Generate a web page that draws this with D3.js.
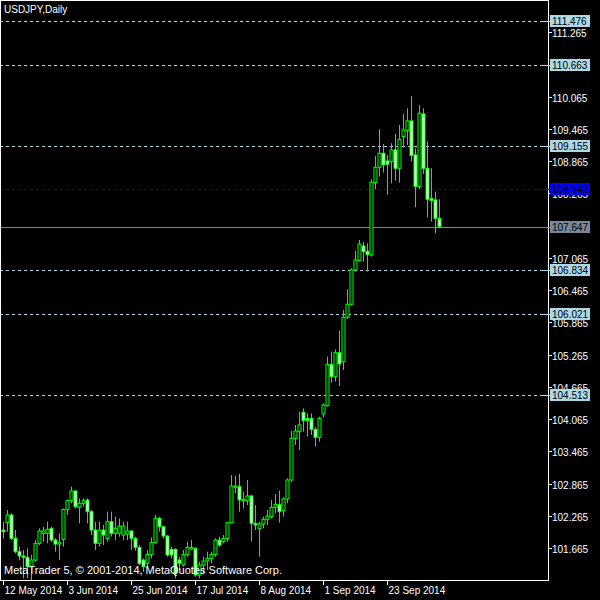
<!DOCTYPE html>
<html><head><meta charset="utf-8">
<script src="https://cdn.jsdelivr.net/npm/d3@7"></script>
<style>body{margin:0;background:#000;}svg{display:block;}</style>
</head><body>
<script>
const opens=[101.999,102.136,102.279,101.845,101.596,101.516,101.491,101.317,101.441,101.751,101.938,101.938,102.031,101.813,101.739,101.826,102.384,102.546,102.726,102.422,102.496,102.558,102.341,101.999,101.751,101.999,101.845,102.155,101.938,101.938,
101.906,101.925,101.981,101.844,101.677,101.441,101.379,101.546,101.764,102.217,102.062,101.888,101.640,101.640,101.441,101.348,101.546,101.646,101.658,101.162,101.348,101.422,101.472,101.546,101.813,101.782,101.844,102.136,
102.794,102.807,102.546,102.546,102.633,102.124,102.031,102.112,102.199,102.248,102.422,102.478,102.360,102.577,102.931,103.707,103.831,104.191,104.079,104.079,103.874,103.725,104.160,104.315,105.085,104.855,105.302,105.134,105.960,
106.202,106.841,107.015,107.288,107.189,107.121,108.467,108.753,109.014,108.871,108.859,109.076,108.734,109.324,109.436,109.616,108.983,108.393,109.746,108.734,108.170,108.145,107.803];
const highs=[102.155,102.372,102.310,101.999,101.689,101.627,101.658,101.534,101.813,102.031,102.062,102.155,102.062,101.845,101.938,102.403,102.571,102.807,102.745,102.589,102.589,102.589,102.372,102.155,102.155,102.093,102.341,102.341,102.248,102.217,
102.155,102.155,101.999,101.875,101.720,101.472,101.627,101.863,102.279,102.248,102.074,101.906,101.689,101.658,101.503,101.627,101.782,101.813,101.677,101.410,101.503,101.596,101.596,101.844,101.875,101.906,102.155,103.024,
103.005,103.043,102.714,102.931,102.652,102.465,102.155,102.248,102.372,102.559,102.670,102.732,102.608,102.962,103.850,103.955,104.203,104.265,104.172,104.172,103.912,104.110,104.359,105.228,105.321,105.364,105.712,106.097,106.481,
106.872,107.195,107.400,107.369,107.338,108.530,108.964,109.461,109.187,108.983,109.200,109.374,109.541,109.746,109.852,110.081,109.107,109.914,109.852,109.231,108.734,108.300,108.157];
const lows=[101.845,101.969,101.813,101.565,101.441,101.100,101.100,101.069,101.410,101.720,101.782,101.751,101.782,101.596,101.441,101.689,102.279,102.496,102.403,102.124,102.434,102.124,101.907,101.627,101.689,101.720,101.782,101.876,101.813,101.876,
101.813,101.813,101.627,101.615,101.348,101.224,101.317,101.472,101.751,101.969,101.844,101.503,101.472,101.100,101.255,101.317,101.503,101.627,101.131,101.100,101.193,101.255,101.379,101.503,101.689,101.751,101.782,102.124,
102.683,102.341,102.403,102.465,101.783,102.000,101.503,102.031,102.093,102.217,102.310,102.137,102.248,102.497,102.900,103.583,103.490,103.831,103.738,103.769,103.552,103.645,104.098,104.297,104.743,104.762,104.681,104.979,105.929,
106.180,106.810,106.996,106.996,106.810,107.090,108.343,108.579,108.654,108.238,108.455,108.505,108.467,109.119,109.168,108.859,108.008,108.343,108.630,107.816,107.741,107.524,107.617];
const closes=[101.969,102.279,101.845,101.596,101.516,101.491,101.317,101.441,101.751,101.981,101.981,102.012,101.813,101.739,101.764,102.384,102.546,102.726,102.434,102.496,102.546,102.341,101.999,101.751,101.999,101.907,102.155,101.938,102.031,102.074,
102.074,101.981,101.844,101.677,101.379,101.317,101.546,101.764,102.217,102.062,101.888,101.534,101.534,101.193,101.379,101.546,101.677,101.677,101.162,101.348,101.422,101.472,101.546,101.813,101.720,101.844,102.136,102.819,
102.819,102.559,102.571,102.633,102.124,102.093,102.112,102.199,102.261,102.422,102.478,102.341,102.577,102.931,103.707,103.843,103.955,104.036,104.036,103.874,103.725,104.079,104.328,105.085,104.855,105.302,105.091,105.960,106.202,
106.841,107.027,107.325,107.183,107.127,108.474,108.753,109.014,108.796,108.809,109.076,108.734,109.274,109.448,109.616,108.970,108.393,109.759,108.734,108.157,108.132,107.803,107.647];
const dateLabels=["12 May 2014","3 Jun 2014","25 Jun 2014","17 Jul 2014","8 Aug 2014","1 Sep 2014","23 Sep 2014"];
const dateIdx=[0,16,32,48,64,80,96];
const priceTicks=[101.665,102.265,102.865,103.465,104.065,104.665,105.265,105.865,106.465,107.065,108.265,108.865,109.465,110.065,111.265];
const levels=[111.476,110.663,109.155,106.834,106.021,104.513];
const askLevel=108.342, lastPrice=107.647;

const W=600,H=600,R=548,B=580;
const svg=d3.select("body").append("svg").attr("width",W).attr("height",H).style("background","#000")
 .style("font-family","'Liberation Sans',Arial,sans-serif").style("font-size","10px");
const y=d3.scaleLinear().domain([101.665,111.476]).range([548,21]);
const x=d3.scaleLinear().domain([0,109]).range([3,439]);
const data=opens.map((o,i)=>({i,o,h:highs[i],l:lows[i],c:closes[i]}));

svg.selectAll("line.lv").data(levels).join("line").attr("x1",0).attr("x2",R).attr("y1",d=>Math.round(y(d))+0.5).attr("y2",d=>Math.round(y(d))+0.5)
 .attr("stroke","#add8e6").attr("stroke-dasharray","3,3");
svg.append("line").attr("x1",0).attr("x2",R).attr("y1",Math.round(y(askLevel))+0.5).attr("y2",Math.round(y(askLevel))+0.5).attr("stroke","#0000ff").attr("stroke-dasharray","3,3");
svg.append("line").attr("x1",0).attr("x2",R).attr("y1",Math.round(y(lastPrice))+0.5).attr("y2",Math.round(y(lastPrice))+0.5).attr("stroke","#778899");

const g=svg.append("g");
g.selectAll("line.w").data(data).join("line").attr("x1",d=>x(d.i)+0.5).attr("x2",d=>x(d.i)+0.5)
 .attr("y1",d=>y(d.h)).attr("y2",d=>y(d.l)).attr("stroke","#00ff00");
g.selectAll("rect").data(data).join("rect").attr("x",d=>x(d.i)-1).attr("width",3)
 .attr("y",d=>Math.min(y(d.o),y(d.c))).attr("height",d=>Math.max(0.5,Math.abs(y(d.o)-y(d.c))))
 .attr("fill",d=>d.c<d.o?"#fff":"#000").attr("stroke","#00ff00").attr("stroke-width",1);

svg.append("rect").attr("x",0.5).attr("y",0.5).attr("width",R).attr("height",B).attr("fill","none").attr("stroke","#fff");

const ax=svg.append("g");
priceTicks.forEach(p=>{const yy=Math.round(y(p))+0.5;
 ax.append("line").attr("x1",R).attr("x2",R+4).attr("y1",yy).attr("y2",yy).attr("stroke","#fff");
 ax.append("text").attr("x",R+4).attr("y",yy+4).attr("fill","#fff").text(p.toFixed(3));});
function box(p,fill){const yy=Math.round(y(p));
 ax.append("line").attr("x1",R-6).attr("x2",R+4).attr("y1",yy+0.5).attr("y2",yy+0.5).attr("stroke",fill);
 ax.append("rect").attr("x",R+2).attr("y",yy-6).attr("width",40).attr("height",12).attr("fill",fill);
 ax.append("text").attr("x",R+4).attr("y",yy+4).attr("fill","#000").text(p.toFixed(3));}
levels.forEach(p=>box(p,"#add8e6"));
box(askLevel,"#0000ff"); box(lastPrice,"#778899");

dateIdx.forEach((d,k)=>{const xx=Math.round(x(d))+0.5;
 svg.append("line").attr("x1",xx).attr("x2",xx).attr("y1",B).attr("y2",B+5).attr("stroke","#fff");
 svg.append("text").attr("x",xx+1).attr("y",B+14).attr("fill","#fff").text(dateLabels[k]);});

svg.append("text").attr("x",4).attr("y",13).attr("fill","#fff").text("USDJPY,Daily");
svg.append("text").attr("x",4).attr("y",574).attr("fill","#fff").attr("font-size","11px").text("MetaTrader 5, © 2001-2014, MetaQuotes Software Corp.");
</script>
</body></html>
